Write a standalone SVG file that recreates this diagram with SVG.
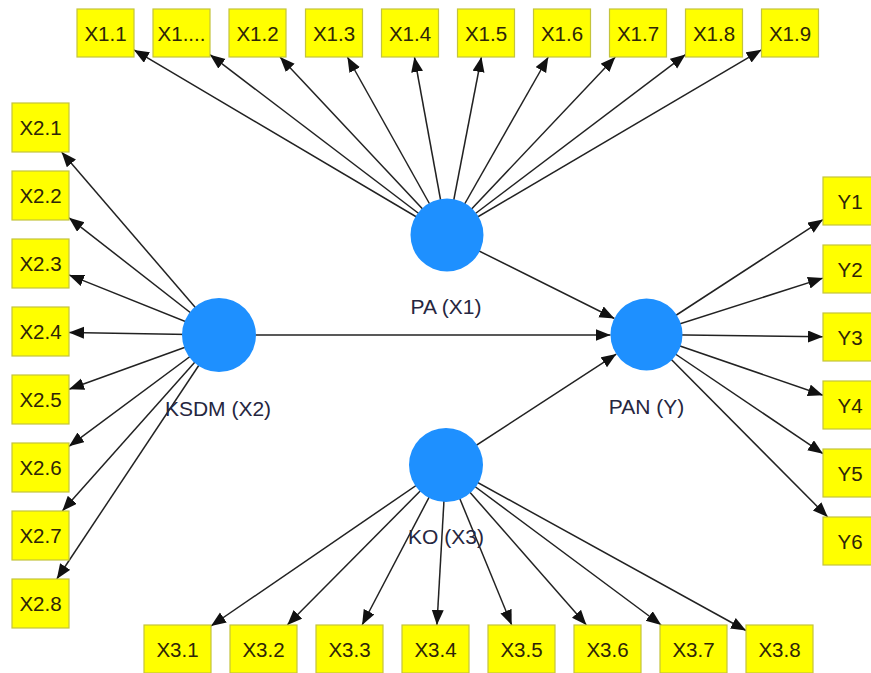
<svg xmlns="http://www.w3.org/2000/svg" width="871" height="673" viewBox="0 0 871 673">
<defs>
<marker id="arr" markerUnits="userSpaceOnUse" markerWidth="17" markerHeight="13" refX="15" refY="6" orient="auto">
<path d="M0,0 L15,6 L0,12 z" fill="#111"/>
</marker>
<style>
.c{stroke:#222;stroke-width:1.5;fill:none;marker-end:url(#arr)}
.b{fill:#ffff00;stroke:#c4c43c;stroke-width:1.2}
.bt{font-family:"Liberation Sans",Arial,sans-serif;font-size:20.5px;fill:#2e2508;text-anchor:middle}
.n{fill:#1e90ff}
.nt{font-family:"Liberation Sans",Arial,sans-serif;font-size:21px;fill:#262640;text-anchor:middle}
</style>
</defs>
<rect width="871" height="673" fill="#ffffff"/>
<g id="connectors">
<line class="c" x1="447" y1="235" x2="134" y2="49.9"/>
<line class="c" x1="447" y1="235" x2="210" y2="54.7"/>
<line class="c" x1="447" y1="235" x2="280" y2="57"/>
<line class="c" x1="447" y1="235" x2="347.4" y2="57"/>
<line class="c" x1="447" y1="235" x2="414.4" y2="57"/>
<line class="c" x1="447" y1="235" x2="481.4" y2="57"/>
<line class="c" x1="447" y1="235" x2="548.3" y2="57"/>
<line class="c" x1="447" y1="235" x2="615.3" y2="57"/>
<line class="c" x1="447" y1="235" x2="685.5" y2="54.6"/>
<line class="c" x1="447" y1="235" x2="761.5" y2="49.8"/>
<line class="c" x1="219" y1="335" x2="61.6" y2="152"/>
<line class="c" x1="219" y1="335" x2="69" y2="217.8"/>
<line class="c" x1="219" y1="335" x2="69" y2="274.9"/>
<line class="c" x1="219" y1="335" x2="69" y2="332.5"/>
<line class="c" x1="219" y1="335" x2="69" y2="389.2"/>
<line class="c" x1="219" y1="335" x2="69" y2="446.3"/>
<line class="c" x1="219" y1="335" x2="62.3" y2="511"/>
<line class="c" x1="219" y1="335" x2="56.8" y2="579"/>
<line class="c" x1="646.5" y1="334.5" x2="823" y2="219.6"/>
<line class="c" x1="646.5" y1="334.5" x2="823" y2="278.1"/>
<line class="c" x1="646.5" y1="334.5" x2="823" y2="336.7"/>
<line class="c" x1="646.5" y1="334.5" x2="823" y2="395.2"/>
<line class="c" x1="646.5" y1="334.5" x2="823" y2="453.7"/>
<line class="c" x1="646.5" y1="334.5" x2="827.7" y2="517"/>
<line class="c" x1="446" y1="465" x2="211" y2="626"/>
<line class="c" x1="446" y1="465" x2="287.3" y2="625"/>
<line class="c" x1="446" y1="465" x2="362.1" y2="625"/>
<line class="c" x1="446" y1="465" x2="436.9" y2="625"/>
<line class="c" x1="446" y1="465" x2="511.7" y2="625"/>
<line class="c" x1="446" y1="465" x2="586.4" y2="625"/>
<line class="c" x1="446" y1="465" x2="661.2" y2="625"/>
<line class="c" x1="446" y1="465" x2="746" y2="630.5"/>
<line class="c" x1="447" y1="235" x2="614.4" y2="318.5"/>
<line class="c" x1="219" y1="335" x2="610.5" y2="335"/>
<line class="c" x1="446" y1="465" x2="616.3" y2="354.1"/>
</g>
<g id="PA"><circle class="n" cx="447" cy="235" r="36.5"/><text class="nt" x="446" y="314">PA (X1)</text></g>
<g id="KSDM"><circle class="n" cx="219" cy="335" r="37"/><text class="nt" x="218" y="416">KSDM (X2)</text></g>
<g id="KO"><circle class="n" cx="446" cy="465" r="37"/><text class="nt" x="446" y="544">KO (X3)</text></g>
<g id="PAN"><circle class="n" cx="646.5" cy="334.5" r="36"/><text class="nt" x="646.5" y="414">PAN (Y)</text></g>
<g id="X1.1"><rect class="b" x="77" y="9" width="57" height="48"/><text class="bt" x="105.5" y="40.5">X1.1</text></g>
<g id="X1.x"><rect class="b" x="153" y="9" width="57" height="48"/><text class="bt" x="181.5" y="40.5">X1....</text></g>
<g id="X1.2"><rect class="b" x="229" y="9" width="57" height="48"/><text class="bt" x="257.5" y="40.5">X1.2</text></g>
<g id="X1.3"><rect class="b" x="305.5" y="9" width="57" height="48"/><text class="bt" x="334" y="40.5">X1.3</text></g>
<g id="X1.4"><rect class="b" x="381.5" y="9" width="57" height="48"/><text class="bt" x="410" y="40.5">X1.4</text></g>
<g id="X1.5"><rect class="b" x="457.5" y="9" width="57" height="48"/><text class="bt" x="486" y="40.5">X1.5</text></g>
<g id="X1.6"><rect class="b" x="533.5" y="9" width="57" height="48"/><text class="bt" x="562" y="40.5">X1.6</text></g>
<g id="X1.7"><rect class="b" x="609.5" y="9" width="57" height="48"/><text class="bt" x="638" y="40.5">X1.7</text></g>
<g id="X1.8"><rect class="b" x="685.5" y="9" width="57" height="48"/><text class="bt" x="714" y="40.5">X1.8</text></g>
<g id="X1.9"><rect class="b" x="761.5" y="9" width="57" height="48"/><text class="bt" x="790" y="40.5">X1.9</text></g>
<g id="X2.1"><rect class="b" x="12" y="103" width="57" height="49"/><text class="bt" x="40.5" y="135">X2.1</text></g>
<g id="X2.2"><rect class="b" x="12" y="171" width="57" height="49"/><text class="bt" x="40.5" y="203">X2.2</text></g>
<g id="X2.3"><rect class="b" x="12" y="239" width="57" height="49"/><text class="bt" x="40.5" y="271">X2.3</text></g>
<g id="X2.4"><rect class="b" x="12" y="307" width="57" height="49"/><text class="bt" x="40.5" y="339">X2.4</text></g>
<g id="X2.5"><rect class="b" x="12" y="375" width="57" height="49"/><text class="bt" x="40.5" y="407">X2.5</text></g>
<g id="X2.6"><rect class="b" x="12" y="443" width="57" height="49"/><text class="bt" x="40.5" y="475">X2.6</text></g>
<g id="X2.7"><rect class="b" x="12" y="511" width="57" height="49"/><text class="bt" x="40.5" y="543">X2.7</text></g>
<g id="X2.8"><rect class="b" x="12" y="579" width="57" height="49"/><text class="bt" x="40.5" y="611">X2.8</text></g>
<g id="Y1"><rect class="b" x="823" y="177" width="57" height="48"/><text class="bt" x="850" y="208.5">Y1</text></g>
<g id="Y2"><rect class="b" x="823" y="245" width="57" height="48"/><text class="bt" x="850" y="276.5">Y2</text></g>
<g id="Y3"><rect class="b" x="823" y="313" width="57" height="48"/><text class="bt" x="850" y="344.5">Y3</text></g>
<g id="Y4"><rect class="b" x="823" y="381" width="57" height="48"/><text class="bt" x="850" y="412.5">Y4</text></g>
<g id="Y5"><rect class="b" x="823" y="449" width="57" height="48"/><text class="bt" x="850" y="480.5">Y5</text></g>
<g id="Y6"><rect class="b" x="823" y="517" width="57" height="48"/><text class="bt" x="850" y="548.5">Y6</text></g>
<g id="X3.1"><rect class="b" x="144" y="625" width="67" height="48"/><text class="bt" x="177.5" y="656.5">X3.1</text></g>
<g id="X3.2"><rect class="b" x="230" y="625" width="67" height="48"/><text class="bt" x="263.5" y="656.5">X3.2</text></g>
<g id="X3.3"><rect class="b" x="316" y="625" width="67" height="48"/><text class="bt" x="349.5" y="656.5">X3.3</text></g>
<g id="X3.4"><rect class="b" x="402" y="625" width="67" height="48"/><text class="bt" x="435.5" y="656.5">X3.4</text></g>
<g id="X3.5"><rect class="b" x="488" y="625" width="67" height="48"/><text class="bt" x="521.5" y="656.5">X3.5</text></g>
<g id="X3.6"><rect class="b" x="574" y="625" width="67" height="48"/><text class="bt" x="607.5" y="656.5">X3.6</text></g>
<g id="X3.7"><rect class="b" x="660" y="625" width="67" height="48"/><text class="bt" x="693.5" y="656.5">X3.7</text></g>
<g id="X3.8"><rect class="b" x="746" y="625" width="67" height="48"/><text class="bt" x="779.5" y="656.5">X3.8</text></g>
</svg>
